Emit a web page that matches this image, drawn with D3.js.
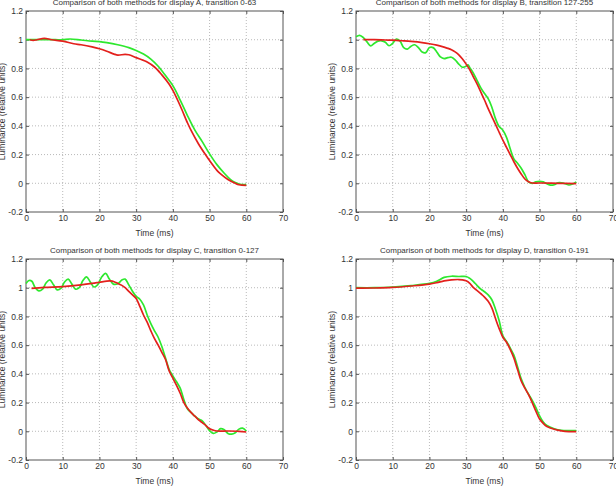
<!DOCTYPE html>
<html>
<head>
<meta charset="utf-8">
<script src="https://cdn.jsdelivr.net/npm/d3@7"></script>
<style>
  body { margin: 0; background: #fff; }
  svg { display: block; }
</style>
</head>
<body>
<div id="chart"></div>
<script>
// Four panels: green vs red luminance traces for each display transition.

const panelTitles = [
  "Comparison of both methods for display A, transition 0-63",
  "Comparison of both methods for display B, transition 127-255",
  "Comparison of both methods for display C, transition 0-127",
  "Comparison of both methods for display D, transition 0-191"
];
const xTicks = [0, 10, 20, 30, 40, 50, 60, 70];
const yTicks = [-0.2, 0, 0.2, 0.4, 0.6, 0.8, 1, 1.2];
const xLabel = "Time (ms)";
const yLabel = "Luminance (relative units)";

// [time ms, luminance]
const greenA = [[0,1.0],[2,1.0],[5,1.0],[8,1.0],[10,1.0],[12,1.005],[15,0.998],[18,0.99],[20,0.987],
  [22,0.98],[25,0.965],[28,0.945],[30,0.925],[32,0.9],[34,0.865],[36,0.815],[38,0.75],[40,0.68],
  [42,0.58],[44,0.47],[46,0.37],[48,0.29],[50,0.205],[52,0.13],[54,0.07],[56,0.02],[57,0.005],
  [58,-0.005],[60,-0.01]];
const redA = [[1,1.0],[2,0.995],[3,1.0],[5,1.01],[7,1.0],[10,0.99],[13,0.972],[15,0.965],[18,0.95],
  [20,0.937],[22,0.92],[24,0.9],[25,0.893],[27,0.898],[28,0.895],[30,0.875],[32,0.856],[33,0.844],
  [35,0.81],[37,0.755],[39,0.69],[40,0.647],[42,0.54],[44,0.42],[45,0.367],[47,0.274],[49,0.195],
  [50,0.158],[52,0.09],[53,0.065],[55,0.026],[57,0.0],[58,-0.01],[60,-0.014]];

const greenB = [[0,1.02],[1,1.03],[2,1.015],[3,0.985],[4,0.957],[5,0.975],[6,0.99],[7,0.992],[8,0.982],
  [9,0.958],[10,0.975],[11,1.005],[12,0.99],[13,0.945],[14,0.935],[15,0.955],[16,0.965],[17,0.945],
  [18,0.915],[19,0.91],[20,0.945],[21,0.945],[22,0.915],[23,0.88],[24,0.868],[25,0.875],[26,0.878],
  [27,0.86],[28,0.83],[29,0.808],[30,0.815],[30.5,0.825],[31,0.805],[32,0.765],[33,0.715],[34,0.665],
  [35,0.625],[36,0.59],[37,0.53],[38,0.45],[39,0.395],[40,0.37],[41,0.32],[42,0.24],[43,0.17],
  [44,0.14],[45,0.105],[46,0.06],[47,0.01],[48,0.0],[49,0.01],[50,0.013],[51,0.01],[52,-0.003],
  [53,-0.013],[54,-0.01],[55,0.003],[56,0.003],[57,-0.003],[58,-0.012],[59,-0.005],[60,0.01]];
const redB = [[2,1.0],[5,1.0],[8,0.998],[10,0.997],[13,0.992],[15,0.988],[18,0.98],[20,0.972],
  [22,0.962],[24,0.948],[25,0.94],[26,0.93],[27,0.915],[28,0.895],[29,0.865],[30,0.83],[31,0.79],
  [32,0.74],[33,0.69],[34,0.635],[35,0.58],[36,0.52],[37,0.465],[38,0.41],[39,0.355],[40,0.3],
  [41,0.25],[42,0.2],[43,0.15],[44,0.105],[45,0.065],[46,0.03],[47,0.01],[48,0.002],[50,0.002],
  [55,0.0],[60,-0.003]];

const greenC = [[0,1.03],[0.8,1.05],[1.6,1.045],[2.5,1.0],[3.5,0.978],[4.5,0.99],[5.5,1.035],
  [6.5,1.055],[7.5,1.02],[8.5,0.985],[9.5,0.995],[10.5,1.04],[11.5,1.06],[12.5,1.025],[13.5,0.99],
  [14.5,1.0],[15.5,1.05],[16.5,1.075],[17.5,1.04],[18.5,1.005],[19.5,1.02],[20.5,1.07],[21.7,1.1],
  [22.7,1.06],[23.8,1.025],[25,1.028],[26.2,1.055],[27,1.06],[28,1.02],[29,0.975],[30,0.94],
  [31,0.92],[32,0.88],[33,0.81],[34,0.75],[35,0.7],[36,0.655],[37,0.59],[38,0.51],[39,0.43],
  [40,0.385],[41,0.345],[42,0.3],[43,0.22],[44,0.155],[45,0.13],[46,0.105],[47,0.085],[48,0.072],
  [49,0.04],[50,0.005],[51,-0.015],[52,-0.005],[53,0.018],[54,0.01],[55,-0.015],[56,-0.02],
  [57,-0.01],[58,0.015],[59,0.022],[60,0.002]];
const redC = [[1.5,0.995],[5,1.002],[10,1.008],[15,1.02],[18,1.03],[20,1.038],[22,1.046],[23,1.047],
  [24,1.042],[25,1.03],[26,1.018],[27,1.0],[28,0.975],[29,0.95],[30,0.925],[31,0.87],[32,0.81],
  [33,0.76],[34,0.7],[35,0.645],[36,0.6],[37,0.55],[38,0.5],[39,0.42],[40,0.37],[41,0.32],
  [42,0.265],[43,0.2],[44,0.16],[45,0.13],[46,0.105],[47,0.08],[48,0.06],[49,0.04],[50,0.018],
  [51,0.008],[52,0.002],[55,0.002],[58,0.0],[60,-0.005]];

const greenD = [[0,1.0],[5,1.0],[10,1.005],[15,1.015],[20,1.03],[22,1.045],[24,1.072],[26,1.08],
  [28,1.078],[30,1.078],[31,1.065],[32,1.043],[33,1.015],[34,0.99],[35,0.972],[36,0.95],[37,0.916],
  [38,0.85],[39,0.77],[40,0.665],[41,0.625],[42,0.58],[43,0.53],[44,0.45],[45,0.365],[46,0.305],
  [47,0.258],[48,0.215],[49,0.165],[50,0.108],[51,0.065],[52,0.04],[54,0.018],[56,0.007],
  [58,0.005],[60,0.005]];
const redD = [[0,0.997],[5,0.998],[10,1.002],[15,1.012],[20,1.025],[22,1.035],[24,1.048],[26,1.055],
  [28,1.057],[29,1.055],[30,1.048],[31,1.03],[32,1.0],[33,0.98],[34,0.958],[35,0.935],[36,0.905],
  [37,0.86],[38,0.785],[39,0.715],[40,0.655],[41,0.62],[42,0.57],[43,0.51],[44,0.43],[45,0.35],
  [46,0.3],[47,0.255],[48,0.2],[49,0.14],[50,0.085],[51,0.055],[52,0.033],[54,0.014],[56,0.003],
  [58,-0.002],[60,-0.002]];

const greenSeries = [greenA, greenB, greenC, greenD];
const redSeries = [redA, redB, redC, redD];

const W = 616, H = 488;
const FONT = "'Liberation Sans', Arial, sans-serif";

const svg = d3.select("#chart").append("svg")
  .attr("width", W).attr("height", H)
  .style("font-family", FONT);

// panel boxes (left, top) -- 2x2 grid
const boxW = 257, boxH = 201;
const boxLeft = [26, 356], boxTop = [11, 259];

const fmt = v => String(+v.toFixed(1));

panelTitles.forEach((title, i) => {
  const col = i % 2, row = Math.floor(i / 2);
  const g = svg.append("g")
    .attr("transform", `translate(${boxLeft[col]},${boxTop[row]})`);

  const x = d3.scaleLinear().domain([0, 70]).range([0, boxW]);
  const y = d3.scaleLinear().domain([-0.2, 1.2]).range([boxH, 0]);

  // dotted grid
  g.append("g").selectAll("line").data(xTicks.slice(1, -1)).join("line")
    .attr("x1", d => x(d)).attr("x2", d => x(d))
    .attr("y1", 0).attr("y2", boxH)
    .attr("stroke", "#a8a8a8").attr("stroke-width", 0.8).attr("stroke-dasharray", "1,2");
  g.append("g").selectAll("line").data(yTicks.slice(1, -1)).join("line")
    .attr("y1", d => y(d)).attr("y2", d => y(d))
    .attr("x1", 0).attr("x2", boxW)
    .attr("stroke", "#a8a8a8").attr("stroke-width", 0.8).attr("stroke-dasharray", "1,2");

  // axes, ticks pointing inward on all four sides
  const axStyle = sel => {
    sel.select(".domain").remove();
    sel.selectAll(".tick line").attr("stroke", "#555");
    sel.selectAll(".tick text").attr("fill", "#333")
      .style("font-family", FONT).style("font-size", "8.5px");
  };
  g.append("g").attr("transform", `translate(0,${boxH})`)
    .call(d3.axisBottom(x).tickValues(xTicks).tickFormat(fmt).tickSizeInner(-3).tickSizeOuter(0).tickPadding(3))
    .call(axStyle);
  g.append("g")
    .call(d3.axisLeft(y).tickValues(yTicks).tickFormat(fmt).tickSizeInner(-3).tickSizeOuter(0).tickPadding(3))
    .call(axStyle);
  g.append("g")
    .call(d3.axisTop(x).tickValues(xTicks).tickFormat("").tickSizeInner(-3).tickSizeOuter(0))
    .call(axStyle);
  g.append("g").attr("transform", `translate(${boxW},0)`)
    .call(d3.axisRight(y).tickValues(yTicks).tickFormat("").tickSizeInner(-3).tickSizeOuter(0))
    .call(axStyle);

  g.append("rect")
    .attr("width", boxW).attr("height", boxH)
    .attr("fill", "none").attr("stroke", "#555").attr("stroke-width", 1);

  const line = d3.line()
    .x(d => x(d[0])).y(d => y(d[1]))
    .curve(d3.curveCatmullRom.alpha(0.5));

  g.append("path").datum(greenSeries[i])
    .attr("d", line).attr("fill", "none")
    .attr("stroke", "#2ee82e").attr("stroke-width", 1.7);
  g.append("path").datum(redSeries[i])
    .attr("d", line).attr("fill", "none")
    .attr("stroke", "#e3201c").attr("stroke-width", 1.7);

  // texts
  g.append("text")
    .attr("x", boxW / 2).attr("y", -6)
    .attr("text-anchor", "middle").attr("fill", "#333")
    .style("font-size", "8px")
    .text(title);
  g.append("text")
    .attr("x", boxW / 2).attr("y", boxH + 24)
    .attr("text-anchor", "middle").attr("fill", "#333")
    .style("font-size", "8.5px")
    .text(xLabel);
  g.append("text")
    .attr("transform", `translate(-21,${boxH / 2}) rotate(-90)`)
    .attr("text-anchor", "middle").attr("fill", "#333")
    .style("font-size", "8.5px")
    .text(yLabel);
});
</script>
</body>
</html>
